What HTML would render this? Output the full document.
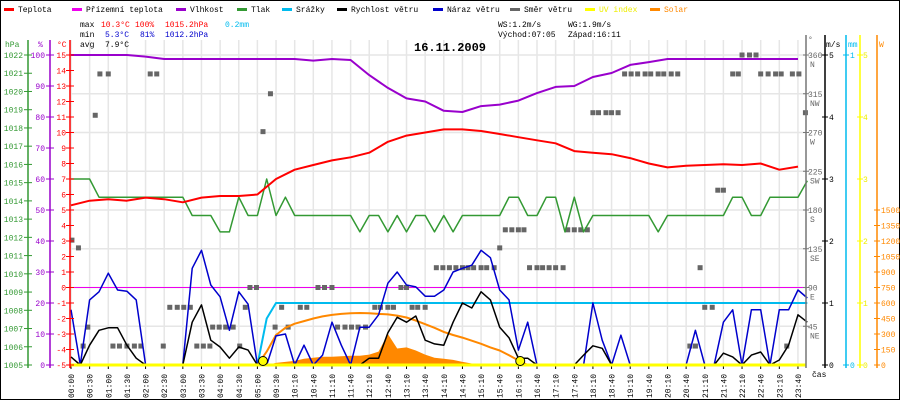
<!DOCTYPE html>
<html><head><meta charset="utf-8"><style>
html,body{margin:0;padding:0;background:#fff}
svg{display:block;font-family:"Liberation Mono",monospace;font-size:8px}
</style></head><body>
<svg id="c" width="900" height="400" viewBox="0 0 900 400" xmlns="http://www.w3.org/2000/svg">
<rect x="0.5" y="0.5" width="899" height="399" fill="#fff" stroke="#000"/>
</svg>
<script>
const timeLabels=["00:00","00:30","01:00","01:30","02:00","02:30","03:00","03:30","04:00","04:30","05:00","09:30","10:10","10:40","11:10","11:40","12:10","12:40","13:10","13:40","14:10","14:40","15:10","15:40","16:10","16:40","17:10","17:40","18:10","18:40","19:10","19:40","20:10","20:40","21:10","21:40","22:10","22:40","23:10","23:40"];
const tempC=[5.3,5.6,5.7,5.6,5.8,5.7,5.5,5.8,5.9,5.9,6.0,7.0,7.6,7.9,8.2,8.4,8.7,9.4,9.8,10.0,10.2,10.2,10.1,9.9,9.7,9.5,9.3,8.8,8.7,8.6,8.35,8.0,7.75,7.85,7.9,7.95,7.9,8.0,7.6,7.8];
const humidity=[100,100,100,100,99.5,98.7,98.7,98.7,98.7,98.7,98.7,98.7,98.7,98.2,98.7,98.4,93.5,89.4,86,85,82,81.6,83.5,84,85.3,87.7,89.7,90,92.9,94.2,96.8,97.7,98.7,98.7,98.7,98.7,98.7,98.7,98.7,98.7];
const pressure=[1015.2,1015.2,1015.2,1014.2,1014.2,1014.2,1014.2,1014.2,1014.2,1014.2,1014.2,1014.2,1014.2,1013.2,1013.2,1013.2,1012.3,1012.3,1014.2,1013.2,1013.2,1015.2,1013.2,1014.2,1013.2,1013.2,1013.2,1013.2,1013.2,1013.2,1013.2,1012.3,1013.2,1013.2,1012.3,1013.2,1012.3,1013.2,1013.2,1012.3,1013.2,1012.3,1013.2,1013.2,1013.2,1013.2,1013.2,1014.2,1014.2,1013.2,1013.2,1014.2,1014.2,1012.3,1014.2,1012.3,1013.2,1013.2,1013.2,1013.2,1013.2,1013.2,1013.2,1012.3,1013.2,1013.2,1013.2,1013.2,1013.2,1013.2,1013.2,1014.2,1014.2,1013.2,1013.2,1014.2,1014.2,1014.2,1014.2,1015.1];
const gust=[0.89,0,1.05,1.18,1.48,1.21,1.19,1.05,0,0,0,0,0,1.56,1.85,1.29,1.10,0.56,1.18,0.98,0,0,0.47,0.5,0,0.32,0,0.16,0.69,0.32,0,0.61,0.61,0.81,1.32,1.5,1.29,1.26,1.11,1.11,1.21,1.5,1.56,1.61,1.85,1.73,1.21,1.05,0.24,0.69,0,0,0,0,0,0,1.0,0.4,0,0.48,0,0,0,0,0,0,0,0.56,0,0,0.69,0.89,0,0.89,0.89,0,0.89,0.89,1.21,1.08];
const wind=[0.13,0,0.32,0.56,0.6,0.6,0.32,0.11,0,0,0,0,0,0.69,0.97,0.4,0.29,0.11,0.29,0.24,0,0,0,0,0,0,0,0,0,0,0,0,0.11,0.11,0.52,0.77,0.69,0.79,0.4,0.34,0.32,0.69,1.0,0.92,1.18,1.05,0.61,0.44,0.11,0.11,0,0,0,0,0,0.16,0.31,0.27,0,0,0,0,0,0,0,0,0,0,0,0,0.19,0.13,0,0.16,0.21,0,0.08,0.32,0.81,0.69];
const rain=[0,0,0,0,0,0,0,0,0,0,0,0,0,0,0,0,0,0,0,0,0,0.15,0.2,0.2,0.2,0.2,0.2,0.2,0.2,0.2,0.2,0.2,0.2,0.2,0.2,0.2,0.2,0.2,0.2,0.2,0.2,0.2,0.2,0.2,0.2,0.2,0.2,0.2,0.2,0.2,0.2,0.2,0.2,0.2,0.2,0.2,0.2,0.2,0.2,0.2,0.2,0.2,0.2,0.2,0.2,0.2,0.2,0.2,0.2,0.2,0.2,0.2,0.2,0.2,0.2,0.2,0.2,0.2,0.2,0.2];
const solarTheory=[0,0,0,0,0,0,0,0,0,0,0,0,0,0,0,0,0,0,0,0,0,130,290,360,400,425,450,470,485,495,500,503,500,495,490,478,460,430,395,360,320,290,265,235,205,170,140,95,45,0,0,0,0,0,0,0,0,0,0,0,0,0,0,0,0,0,0,0,0,0,0,0,0,0,0,0,0,0,0,0];
const solarMeasured=[0,0,0,0,0,0,0,0,0,0,0,0,0,0,0,0,0,0,0,0,0,0,20,30,40,60,70,80,80,85,90,90,100,130,300,160,170,140,100,70,60,50,30,15,0,0,0,0,0,0,0,0,0,0,0,0,0,0,0,0,0,0,0,0,0,0,0,0,0,0,0,0,0,0,0,0,0,0,0,0];
const dirTimes=[0.05,0.4,0.65,0.9,1.3,1.55,2.0,2.25,2.6,3.0,3.4,3.75,4.25,4.6,4.95,5.3,5.7,6.05,6.4,6.75,7.1,7.45,7.6,7.95,8.3,8.7,9.05,9.35,9.6,9.95,10.3,10.7,10.95,11.3,11.65,12.3,12.65,13.25,13.6,14.0,14.3,14.7,15.05,15.4,15.8,16.3,16.6,17.0,17.3,17.7,18.0,18.3,18.6,19.0,19.6,19.95,20.3,20.65,21.0,21.3,21.6,22.0,22.3,22.7,23.0,23.3,23.65,24.0,24.3,24.6,25.0,25.3,25.65,26.0,26.4,26.65,27.0,27.35,27.7,28.0,28.3,28.7,29.0,29.35,29.7,30.05,30.4,30.8,31.1,31.5,31.8,32.2,32.55,33.2,33.5,33.75,34.0,34.4,34.7,35.0,35.5,35.8,36.0,36.4,36.75,37.0,37.4,37.8,38.1,38.4,38.7,39.05,39.4];
const dirDeg=[145,136,22,44,290,338,338,22,22,22,22,22,338,338,22,67,67,67,67,22,22,22,44,44,44,44,22,67,90,90,271,315,44,67,44,67,67,90,90,90,44,44,44,44,44,67,67,67,67,90,90,67,67,67,113,113,113,113,113,113,113,113,113,113,136,157,157,157,157,113,113,113,113,113,113,157,157,157,157,293,293,293,293,293,338,338,338,338,338,338,338,338,338,22,22,113,67,67,203,203,338,338,360,360,360,338,338,338,338,22,338,338,293];
const cTicks=[-5,-4,-3,-2,-1,0,1,2,3,4,5,6,7,8,9,10,11,12,13,14,15];
const pTicks=[1005,1006,1007,1008,1009,1010,1011,1012,1013,1014,1015,1016,1017,1018,1019,1020,1021,1022];
const hTicks=[0,10,20,30,40,50,60,70,80,90,100];
const dTicks=[45,90,135,180,225,270,315,360];
const dNames=["NE","E","SE","S","SW","W","NW","N"];
const msTicks=[0,1,2,3,4,5];
const wTicks=[0,150,300,450,600,750,900,1050,1200,1350,1500];

const NS="http://www.w3.org/2000/svg";
const svg=document.getElementById('c');
function mk(tag,attrs,parent){const e=document.createElementNS(NS,tag);for(const k in attrs)e.setAttribute(k,attrs[k]);(parent||svg).appendChild(e);return e;}
function tx(x,y,s,fill,anchor,extra){const e=mk('text',Object.assign({x:x,y:y,fill:fill||'#000','text-anchor':anchor||'start'},extra||{}));e.textContent=s;return e;}

const L=70,R=806,T=55,B=365;
const X=i=>71+i*18.64;
const yT=t=>B-(t+5)*15.5;
const yH=h=>B-h*3.1;
const yP=p=>B-(p-1005)*18.235;
const yW=v=>B-v*62;
const yD=d=>B-d*310/360;
const yR=m=>B-m*310;
const yS=w=>B-w*0.10333;

for(let k=0;k<=8;k++){const y=T+k*38.75;const g=mk('line',{x1:L,x2:R,y1:y,y2:y,stroke:'#e6e6e6','stroke-width':1.5});

}
timeLabels.forEach((lab,i)=>{const x=X(i);
const g=mk('line',{x1:x,x2:x,y1:40,y2:B,stroke:'#e6e6e6','stroke-width':1.5});


const tk=mk('line',{x1:x,x2:x,y1:B,y2:B+4,stroke:'#000'});


const t=tx(x+3,398,lab,'#000','start',{transform:`rotate(-90 ${x+3} 398)`});

});

function poly(vals,step,yf,color,w,name){let pts=vals.map((v,i)=>`${X(i*step).toFixed(1)},${yf(v).toFixed(1)}`).join(' ');
const e=mk('polyline',{points:pts,fill:'none',stroke:color,'stroke-width':w,'stroke-linejoin':'round'});

return e;}

{let d=`M${X(0)},${B}`;solarMeasured.forEach((v,i)=>{d+=` L${X(i*0.5)},${yS(v)}`;});d+=` L${X(39.5)},${B} Z`;
const e=mk('path',{d:d,fill:'#ff8800',stroke:'none'});

}
{const e=mk('line',{x1:L,x2:R,y1:yT(0),y2:yT(0),stroke:'#ee00ee','stroke-width':1});

}
dirTimes.forEach((t,i)=>{const e=mk('rect',{x:X(t)-2.5,y:yD(dirDeg[i])-2.5,width:5,height:5,fill:'#666'});

});
poly(pressure,0.5,yP,'#339933',1.5,'pressure-line');
poly(rain,0.5,yR,'#00bbee',2,'precipitation-line');
poly(solarTheory.slice(0,50),0.5,yS,'#ff8800',2,'solar-theoretical-line');
poly(gust,0.5,yW,'#0000cc',1.5,'wind-gust-line');
poly(wind,0.5,yW,'#000',1.5,'wind-speed-line');
poly(humidity,1,yH,'#9900cc',2,'humidity-line');
poly(tempC,1,yT,'#ff0000',2,'temperature-line');
{const e=mk('line',{x1:L,x2:R,y1:B,y2:B,stroke:'#ffff00','stroke-width':3});

}
[[10.3,'sunrise-marker'],[24.1,'sunset-marker']].forEach(([t,n])=>{const e=mk('circle',{cx:X(t),cy:B-4,r:4.5,fill:'#ffff00',stroke:'#000','stroke-width':1});

});

function vaxis(x,color,name,y1,y2){const e=mk('line',{x1:x,x2:x,y1:y1,y2:y2,stroke:color,'stroke-width':1.5});

}
vaxis(28,'#339933','pressure-axis',40,368);
vaxis(50,'#9900cc','humidity-axis',40,368);
vaxis(L,'#ff0000','temperature-axis',40,368);
vaxis(R,'#777','direction-axis',35,368);
vaxis(825,'#000','wind-speed-axis',35,368);
vaxis(846,'#00bbee','precipitation-axis',35,368);
vaxis(860,'#ffff00','uv-axis',35,368);
vaxis(877,'#ff8800','solar-axis',35,368);
function tick(x1,x2,y,color,name){const e=mk('line',{x1:x1,x2:x2,y1:y,y2:y,stroke:color});

}
pTicks.forEach(p=>{tick(24,32,yP(p),'#339933','pressure-tick');const t=tx(23,yP(p)+3,String(p),'#339933','end');

});
hTicks.forEach(h=>{tick(46,54,yH(h),'#9900cc','humidity-tick');const t=tx(45,yH(h)+3,String(h),'#9900cc','end');

});
cTicks.forEach(c=>{tick(66,74,yT(c),'#ff0000','temperature-tick');const t=tx(66,yT(c)+3,String(c),'#ff0000','end');

});
dTicks.forEach((d,i)=>{tick(803,809,yD(d),'#777','direction-tick');const t=tx(808,yD(d)+3,String(d),'#666','start');


const n=tx(810,yD(d)+12,dNames[i],'#666','start');

});
msTicks.forEach(v=>{tick(822,828,yW(v),'#000','wind-speed-tick');const t=tx(829,yW(v)+3,String(v),'#000','start');


tick(857,863,yW(v),'#ffff00','uv-tick');const u=tx(863,yW(v)+3,String(v),'#eeee00','start');

});
[0,1].forEach(m=>{tick(843,849,yR(m),'#00bbee','precipitation-tick');const t=tx(850,yR(m)+3,String(m),'#00bbee','start');

});
wTicks.forEach(w=>{tick(874,880,yS(w),'#ff8800','solar-tick');const t=tx(881,yS(w)+3,String(w),'#ff8800','start');

});

[[5,47,'hPa','#339933','pressure-axis-title'],[38,47,'%','#9900cc','humidity-axis-title'],[57,47,'°C','#ff0000','temperature-axis-title'],[808,42,'°','#666','direction-axis-title'],[826,47,'m/s','#000','wind-speed-axis-title'],[848,47,'mm','#00bbee','precipitation-axis-title'],[879,47,'W','#ff8800','solar-axis-title'],[812,377,'čas','#000','x-axis-title']].forEach(a=>{const t=tx(a[0],a[1],a[2],a[3]);

});

const legNames=['Teplota','Přízemní teplota','Vlhkost','Tlak','Srážky','Rychlost větru','Náraz větru','Směr větru','UV index','Solar'];
const legColors=['#ff0000','#ee00ee','#9900cc','#339933','#00bbee','#000','#0000cc','#666','#ffff00','#ff8800'];
const legX=[4,72,176,237,282,337,433,510,585,650];
legNames.forEach((n,i)=>{const x=legX[i];const r=mk('rect',{x:x,y:8,width:10,height:3,fill:legColors[i]});


const t=tx(x+14,12,n,i==8?'#eeee00':(i==9?'#ff8800':'#000'));

});

[[80,27,'max','#000'],[101,27,'10.3°C','#ff0000'],[135,27,'100%','#ff0000'],[165,27,'1015.2hPa','#ff0000'],[225,27,'0.2mm','#00bbee'],
 [80,37,'min','#000'],[105,37,'5.3°C','#0000cc'],[140,37,'81%','#0000cc'],[165,37,'1012.2hPa','#0000cc'],
 [80,47,'avg','#000'],[105,47,'7.9°C','#000'],
 [498,27,'WS:1.2m/s','#000'],[568,27,'WG:1.9m/s','#000'],[498,37,'Východ:07:05','#000'],[568,37,'Západ:16:11','#000']].forEach(a=>{const t=tx(a[0],a[1],a[2],a[3]);

});
{const t=tx(414,51,'16.11.2009','#000','start',{'font-size':'12px','font-weight':'bold'});

}
</script>
</body></html>
